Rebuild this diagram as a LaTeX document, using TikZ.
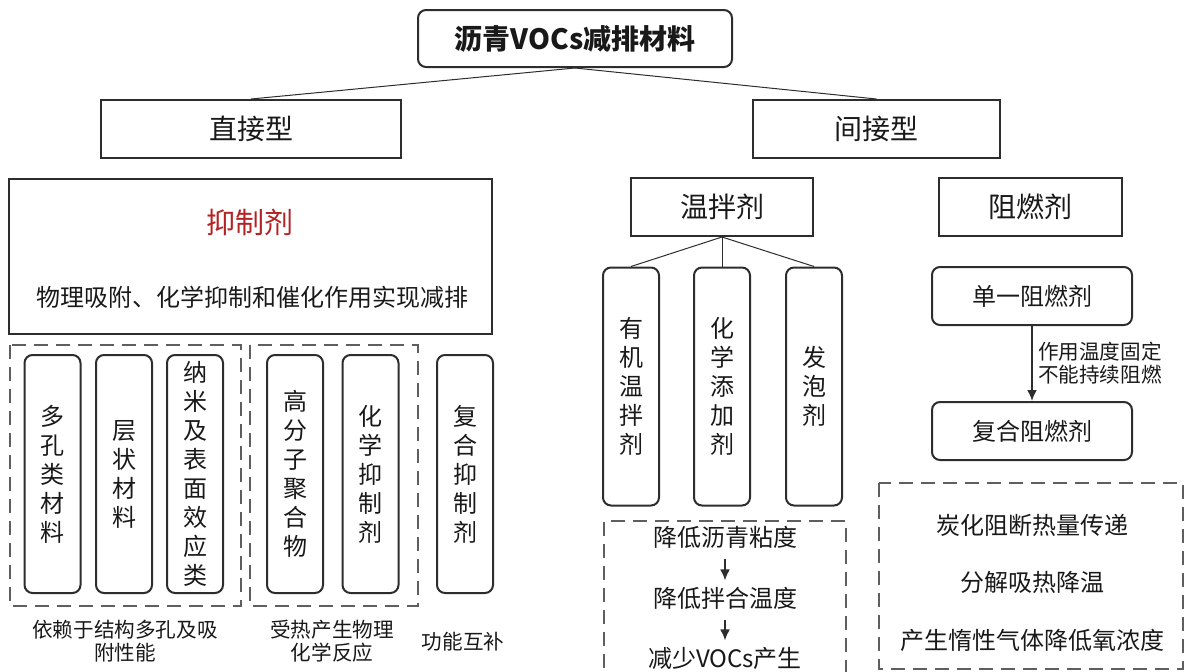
\documentclass[tikz,border=0pt]{standalone}
\usepackage{fontspec}
\usetikzlibrary{arrows.meta}
\setmainfont{Noto Sans CJK SC}
\definecolor{boxline}{RGB}{45,45,45}
\definecolor{dashline}{RGB}{95,95,95}
\definecolor{inhibitor}{RGB}{180,35,35}
\definecolor{ink}{RGB}{25,25,25}
\tikzstyle{sqbox}=[draw=boxline, line width=1pt, inner sep=0pt, text=ink]
\tikzstyle{rdbox}=[sqbox, rounded corners=4pt]
\tikzstyle{headbox}=[sqbox, minimum height=29pt, font=\fontsize{14}{16}\selectfont]
\tikzstyle{tallbox}=[rdbox, minimum width=28pt, minimum height=119pt, align=center, font=\fontsize{12}{14.5}\selectfont]
\tikzstyle{flatbox}=[rdbox, minimum width=100pt, minimum height=29pt, font=\fontsize{12}{14}\selectfont]
\tikzstyle{dashbox}=[draw=dashline, line width=1.4pt, dash pattern=on 7pt off 4pt]
\tikzstyle{link}=[draw=boxline, line width=.5pt]
\tikzstyle{flow}=[draw=boxline, line width=1pt, -{Latex[length=5.5pt,width=5pt]}]
\tikzstyle{txt}=[inner sep=0pt, text=ink, font=\fontsize{12}{14}\selectfont]
\tikzstyle{capt}=[inner sep=0pt, text=ink, align=center, font=\fontsize{10.3}{11.5}\selectfont]

\begin{document}
\begin{tikzpicture}[x=0.5pt, y=-0.5pt]
  \useasboundingbox (0,0) rectangle (1184,671);

  %% top levels
  \draw (575,38.5) node[rdbox, minimum width=157pt, minimum height=28.5pt, font=\fontsize{14}{16}\selectfont\bfseries] (Root) {沥青VOCs减排材料};
  \draw (251,129) node[headbox, minimum width=150pt] (Direct) {直接型};
  \draw (876.5,129) node[headbox, minimum width=123.5pt] (Indirect) {间接型};

  \draw[link] (Root.south) -- (Direct.north);
  \draw[link] (Root.south) -- (Indirect.north);

  %% direct: inhibitors
  \draw (250.5,256.5) node[sqbox, minimum width=241.5pt, minimum height=77.5pt] (Inhib) {};
  \draw (250,222) node[txt, text=inhibitor, font=\fontsize{14.5}{16}\selectfont] (InhibTitle) {抑制剂};
  \draw (252,297) node[txt] (InhibText) {物理吸附、化学抑制和催化作用实现减排};

  \draw (52.5,474) node[tallbox] (Porous) {多\\孔\\类\\材\\料};
  \draw (124,474) node[tallbox] (Layer) {层\\状\\材\\料};
  \draw (195,474) node[tallbox] (Nano) {纳\\米\\及\\表\\面\\效\\应\\类};
  \draw (295,474) node[tallbox] (Polymer) {高\\分\\子\\聚\\合\\物};
  \draw (370.5,474) node[tallbox] (Chem) {化\\学\\抑\\制\\剂};
  \draw (465,474) node[tallbox] (Compound) {复\\合\\抑\\制\\剂};

  \draw[dashbox] (10,345) rectangle (241,606);
  \draw[dashbox] (250,345) rectangle (418,606);

  \draw (125,641) node[capt] (PorousNote) {依赖于结构多孔及吸\\附性能};
  \draw (332,641) node[capt] (HeatNote) {受热产生物理\\化学反应};
  \draw (463,642) node[capt] (CompNote) {功能互补};

  %% indirect: warm mix
  \draw (722,207) node[headbox, minimum width=91pt] (WMA) {温拌剂};
  \draw (631,386.5) node[tallbox] (Organic) {有\\机\\温\\拌\\剂};
  \draw (722,386.5) node[tallbox] (Additive) {化\\学\\添\\加\\剂};
  \draw (814,386.5) node[tallbox] (Foam) {发\\泡\\剂};

  \draw[link] (WMA.south) -- (Organic.north);
  \draw[link] (WMA.south) -- (Additive.north);
  \draw[link] (WMA.south) -- (Foam.north);

  \draw[dashbox] (604,690) -- (604,521) -- (846,521) -- (846,690);
  \draw (725,537) node[txt] (Visc) {降低沥青粘度};
  \draw (725,598) node[txt] (MixT) {降低拌合温度};
  \draw (725,658) node[txt] (LessVOC) {减少VOCs产生};
  \draw[flow, shorten <=5pt, shorten >=3pt] (Visc) -- (MixT);
  \draw[flow, shorten <=5pt, shorten >=3pt] (MixT) -- (LessVOC);

  %% indirect: flame retardant
  \draw (1030.5,207) node[headbox, minimum width=91.5pt] (FR) {阻燃剂};
  \draw (1032,296) node[flatbox] (Single) {单一阻燃剂};
  \draw (1032,431) node[flatbox] (Mixed) {复合阻燃剂};
  \draw[flow] (Single) -- node[capt, align=left, right=2.5pt] (Why) {作用温度固定\\不能持续阻燃} (Mixed);

  \draw[dashbox] (879,483) rectangle (1183,669);
  \draw (1032,525) node[txt] (Char) {炭化阻断热量传递};
  \draw (1032,582) node[txt] (Absorb) {分解吸热降温};
  \draw (1032,640) node[txt] (Inert) {产生惰性气体降低氧浓度};
\end{tikzpicture}
\end{document}
